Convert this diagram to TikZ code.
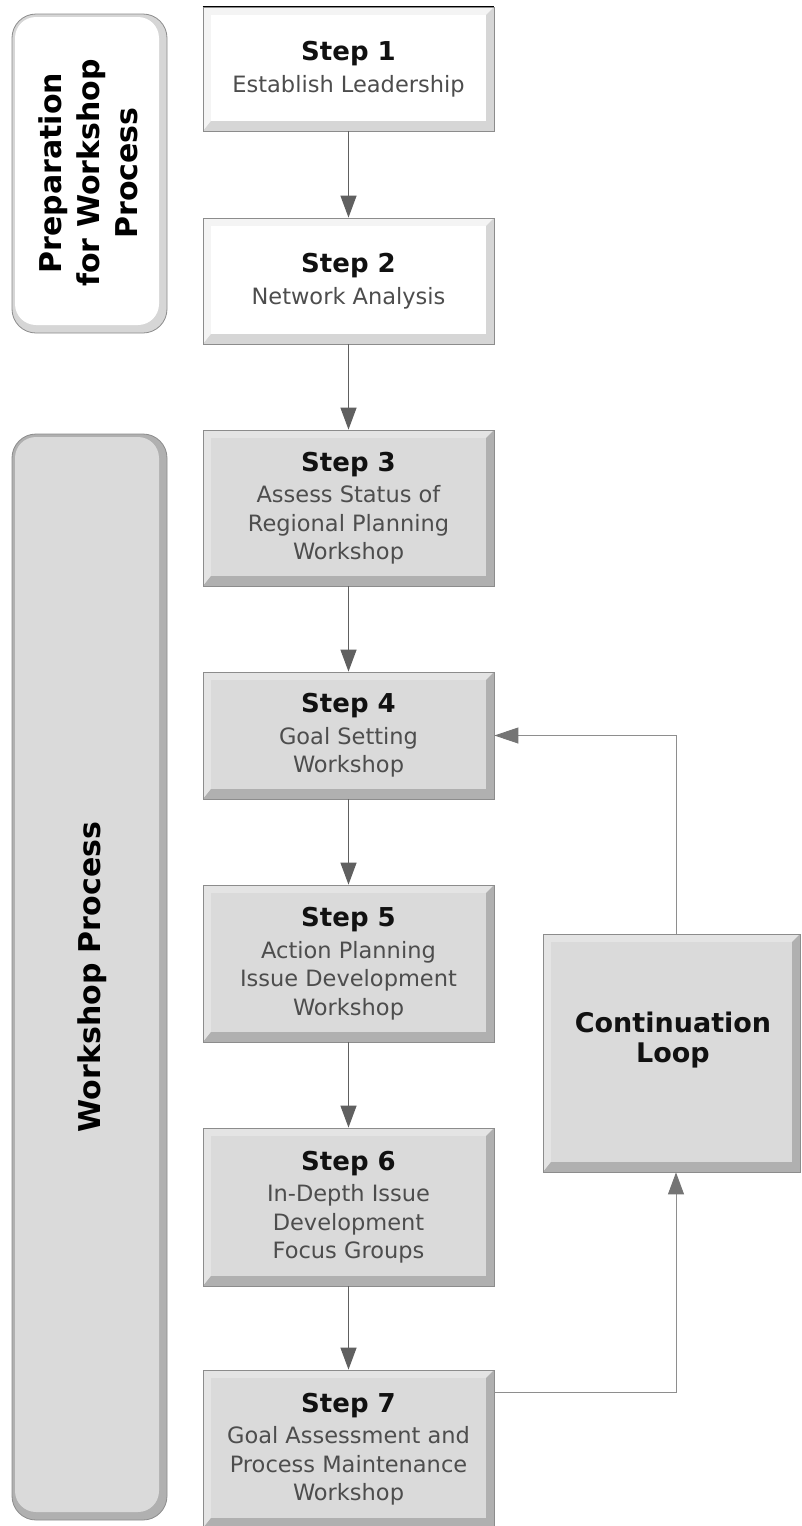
\documentclass[tikz,border=0pt]{standalone}
\usepackage{fontspec}
\setmainfont{DejaVu Sans}
\usetikzlibrary{arrows.meta,calc}
\definecolor{titlec}{HTML}{111111}
\definecolor{subc}{HTML}{4D4D4D}
\definecolor{edgec}{HTML}{8C8C8C}
\definecolor{grayin}{HTML}{DADADA}
\definecolor{graylt}{HTML}{E4E4E4}
\definecolor{graydk}{HTML}{B0B0B0}
\definecolor{whitelt}{HTML}{F4F4F4}
\definecolor{whitedk}{HTML}{D6D6D6}
\definecolor{arrowc}{HTML}{606060}
\definecolor{loopc}{HTML}{8E8E8E}
\definecolor{looptip}{HTML}{757575}
\newcommand\sttl[1]{{\fontsize{26}{30}\selectfont\bfseries\color{titlec}#1}}
\tikzset{
  bev dark/.store in=\bevdark, bev inner/.store in=\bevinner,
  bevel/.style={
    path picture={
      \coordinate (ppsw) at (path picture bounding box.south west);
      \coordinate (ppne) at (path picture bounding box.north east);
      \fill[\bevdark] (ppsw) -- (ppsw -| ppne) -- (ppne) -- ([shift={(-8pt,-8pt)}]ppne)
        -- ([shift={(-8pt,10pt)}]ppsw -| ppne) -- ([shift={(8pt,10pt)}]ppsw) -- cycle;
      \fill[\bevinner] ([shift={(8pt,10pt)}]ppsw) rectangle ([shift={(-8pt,-8pt)}]ppne);
    }},
  stepbox/.style={rectangle, draw=edgec, line width=0.8pt, minimum width=291pt,
    inner sep=0pt, align=center, text=subc,
    font=\fontsize{22.5}{28.5}\selectfont, bevel},
  graybox/.style={stepbox, fill=graylt, bev dark=graydk, bev inner=grayin},
  whitebox/.style={stepbox, fill=whitelt, bev dark=whitedk, bev inner=white},
  groupbox/.style={rectangle, rounded corners=24pt, draw=edgec, line width=0.8pt,
    minimum width=155pt, inner sep=0pt,
    path picture={
      \coordinate (ppsw) at (path picture bounding box.south west);
      \coordinate (ppne) at (path picture bounding box.north east);
      \fill[\bevinner, rounded corners=21pt] ([shift={(3pt,8pt)}]ppsw) rectangle ([shift={(-8pt,-3pt)}]ppne);
    }},
  grouptext/.style={rotate=90, align=center, text=black,
    font=\fontsize{30}{38}\selectfont\bfseries},
  conn/.style={draw=arrowc, line width=1.3pt, -{Triangle[length=22pt,width=16pt]}},
  loopconn/.style={draw=loopc, line width=1pt},
}
\begin{document}
\begin{tikzpicture}[x=1pt,y=-1pt]
\useasboundingbox (0,0) rectangle (801,1526);
\fill[white] (0,0) rectangle (801,1526);

% group boxes
\node[groupbox, fill=whitedk, bev inner=white, minimum height=319pt] (prep) at (89.5,173.5) {};
\node[groupbox, fill=graydk, bev inner=grayin, minimum height=1086pt] (work) at (89.5,977) {};
\node[grouptext] (preptext) at (88,173) {Preparation\\for Workshop\\Process};
\node[grouptext] (worktext) at (92,977) {Workshop Process};

% steps
\node[whitebox, minimum height=124pt] (s1) at (348.5,69) {\sttl{Step 1}\\[3pt]Establish Leadership};
\node[whitebox, minimum height=126pt] (s2) at (348.5,281) {\sttl{Step 2}\\[3pt]Network Analysis};
\node[graybox, minimum height=156pt] (s3) at (348.5,508) {\sttl{Step 3}\\[3pt]Assess Status of\\Regional Planning\\Workshop};
\node[graybox, minimum height=127pt] (s4) at (348.5,735.5) {\sttl{Step 4}\\[3pt]Goal Setting\\Workshop};
\node[graybox, minimum height=157pt] (s5) at (348.5,963.5) {\sttl{Step 5}\\[3pt]Action Planning\\Issue Development\\Workshop};
\node[graybox, minimum height=158pt] (s6) at (348.5,1207) {\sttl{Step 6}\\[3pt]In-Depth Issue\\Development\\Focus Groups};
\node[graybox, minimum height=158pt] (s7) at (348.5,1449) {\sttl{Step 7}\\[3pt]Goal Assessment and\\Process Maintenance\\Workshop};
\draw[black, line width=1.5pt] (s1.north west) -- (s1.north east);

% continuation loop
\node[graybox, minimum width=257pt, minimum height=238pt] (cont) at (671.5,1053) {};
\node[align=center, text=titlec, font=\fontsize{27}{30}\selectfont\bfseries] (conttext) at (673,1040) {Continuation\\Loop};

% connectors
\draw[conn] (s1) -- (s2);
\draw[conn] (s2) -- (s3);
\draw[conn] (s3) -- (s4);
\draw[conn] (s4) -- (s5);
\draw[conn] (s5) -- (s6);
\draw[conn] (s6) -- (s7);

\coordinate (loopx) at (676,0);
\coordinate (s7out) at ($(s7.north east)+(0,23)$);
\draw[loopconn, -{Triangle[length=22pt,width=16pt,color=looptip]}] (s7out) -- (s7out -| loopx) -- (cont.south -| loopx);
\draw[loopconn, -{Triangle[length=24pt,width=16pt,color=looptip]}] (cont.north -| loopx) -- (s4.east -| loopx) -- (s4.east);
\end{tikzpicture}
\end{document}
